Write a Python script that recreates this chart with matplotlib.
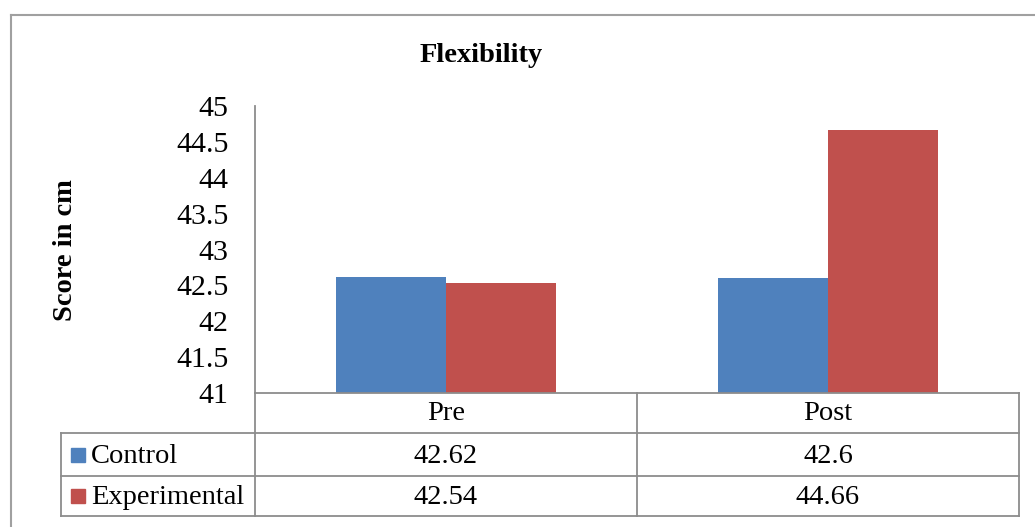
import matplotlib
matplotlib.use("Agg")
import matplotlib.pyplot as plt
from matplotlib.lines import Line2D
from matplotlib.patches import Rectangle

categories = ["Pre", "Post"]
series_names = ["Control", "Experimental"]
control = [42.62, 42.6]
experimental = [42.54, 44.66]
yticks = [41, 41.5, 42, 42.5, 43, 43.5, 44, 44.5, 45]
ytick_labels = ["41", "41.5", "42", "42.5", "43", "43.5", "44", "44.5", "45"]

colors = ["#4F81BD", "#C0504D"]
grid_c = "#8c8c8c"
W, H = 1035, 527
plt.rcParams['font.family'] = ['Liberation Serif', 'DejaVu Serif']

fig = plt.figure(figsize=(W / 100, H / 100), dpi=100)

def fx(p):
    return p / W

def fy(p):
    return 1 - p / H

ax_l, ax_r, ax_t, ax_b = 255, 1019, 106, 393
ax = fig.add_axes([fx(ax_l), fy(ax_b), fx(ax_r - ax_l), fy(ax_t) - fy(ax_b)])
x = list(range(len(categories)))
bw = 110 / 382
ax.bar([i - bw / 2 for i in x], control, width=bw, color=colors[0], bottom=0)
ax.bar([i + bw / 2 for i in x], experimental, width=bw, color=colors[1], bottom=0)
ax.set_xlim(-0.5, len(categories) - 0.5)
ax.set_ylim(41, 45)
ax.set_yticks(yticks)
ax.set_yticklabels(ytick_labels, fontsize=21.5)
ax.tick_params(axis='y', length=0, pad=19)
ax.set_xticks([])
for s in ["top", "right", "bottom"]:
    ax.spines[s].set_visible(False)
ax.spines["left"].set_color(grid_c)
ax.spines["left"].set_linewidth(1.3)

def hline(x0, x1, y, c=grid_c, lw=1.3):
    fig.add_artist(Line2D([fx(x0), fx(x1)], [fy(y), fy(y)], color=c, lw=lw))

def vline(x, y0, y1, c=grid_c, lw=1.3):
    fig.add_artist(Line2D([fx(x), fx(x)], [fy(y0), fy(y1)], color=c, lw=lw))

# table
rows_y = [393, 433, 476, 516]
tab_left = 61
mid = 637
hline(ax_l, ax_r, 393)
hline(tab_left, ax_r, 433)
hline(tab_left, ax_r, 476)
hline(tab_left, ax_r, 516)
vline(ax_l, 393, 516)
vline(mid, 393, 516)
vline(ax_r, 393, 516)
vline(tab_left, 433, 516)

col_centers = [(ax_l + mid) / 2, (mid + ax_r) / 2]
for i, c in enumerate(categories):
    fig.text(fx(col_centers[i]), fy((rows_y[0] + rows_y[1]) / 2 + 1), c,
             ha='center', va='center', fontsize=20.5)
for r, (name, vals) in enumerate(zip(series_names, [control, experimental])):
    yc = (rows_y[r + 1] + rows_y[r + 2]) / 2
    fig.add_artist(Rectangle((fx(71), fy(yc + 7)), fx(14), fy(yc - 7) - fy(yc + 7),
                             color=colors[r], transform=fig.transFigure))
    fig.text(fx(91), fy(yc + 2), name, ha='left', va='center', fontsize=20.5)
    for i, v in enumerate(vals):
        fig.text(fx(col_centers[i]), fy(yc + 2), f"{v:g}", ha='center', va='center', fontsize=20.5)

fig.text(fx(481), fy(56), "Flexibility", ha='center', va='center', fontsize=20.5, fontweight='bold')
fig.text(fx(65), fy(250), "Score in cm", ha='center', va='center', fontsize=20.5,
         fontweight='bold', rotation=90)

# outer chart border
fig.add_artist(Line2D([fx(11), fx(11)], [fy(15), 0], color="#a0a0a0", lw=1.5))
fig.add_artist(Line2D([fx(11), 1], [fy(15), fy(15)], color="#a0a0a0", lw=1.5))

fig.savefig("out.png", dpi=100)
